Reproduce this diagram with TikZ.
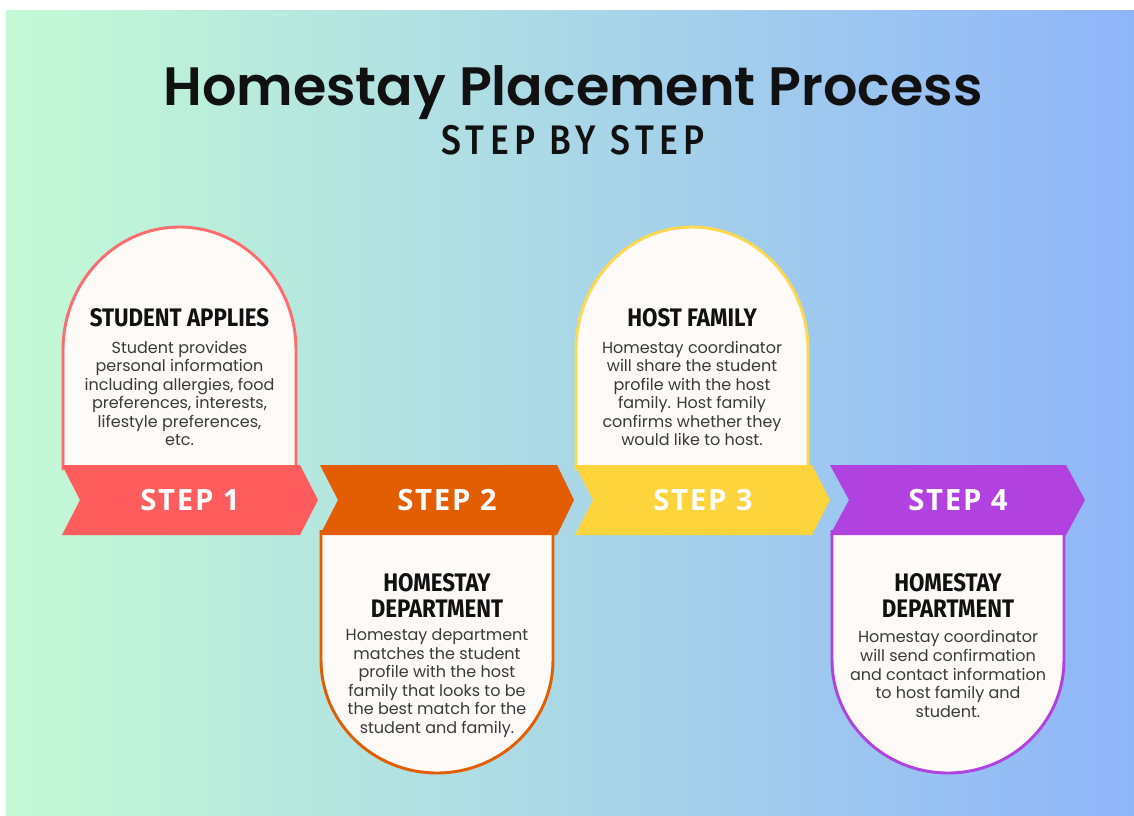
\documentclass[tikz,border=0pt]{standalone}
\usepackage{fontspec}
\setmainfont{Poppins}
\newfontfamily\titlefont{Poppins SemiBold}
\newfontfamily\headfont[FakeStretch=0.88]{Fira Sans}
\newfontfamily\subfont[FakeStretch=0.86,LetterSpace=13]{Fira Sans Medium}
\newfontfamily\ribbonfont[LetterSpace=6]{Open Sans}
\usepackage{tikz}
\usetikzlibrary{positioning}
\definecolor{BgMint}{HTML}{C4FAD5}
\definecolor{BgAqua}{HTML}{ACDCE8}
\definecolor{BgSky}{HTML}{8FB5F9}
\definecolor{CardWhite}{HTML}{FDFAF8}
\definecolor{InkBlack}{HTML}{111111}
\definecolor{InkGray}{HTML}{3A3A3A}
\definecolor{StepRed}{HTML}{FF5C5E}
\definecolor{StepOrange}{HTML}{E35D02}
\definecolor{StepYellow}{HTML}{FDD43C}
\definecolor{StepPurple}{HTML}{B142E0}
\tikzset{
  card/.style={line width=2.2pt, fill=CardWhite, line join=round},
  titletext/.style={font=\titlefont\fontsize{40.5}{44}\selectfont, text=InkBlack},
  subtext/.style={font=\subfont\fontsize{31}{32}\selectfont, text=InkBlack},
  headtext/.style={font=\headfont\bfseries\fontsize{19}{19}\selectfont, text=InkBlack, align=center},
  bodytext/.style={font=\fontsize{12}{13.9}\selectfont, text=InkGray, align=center},
  steptext/.style={font=\ribbonfont\bfseries\fontsize{22}{24}\selectfont, text=white}
}
\begin{document}
\begin{tikzpicture}[x=0.75pt, y=-0.75pt]
  \useasboundingbox (0,0) rectangle (1134,816);
  % backdrop
  \fill[white] (0,0) rectangle (1134,816);
  \shade[left color=BgMint, middle color=BgAqua, right color=BgSky] (6,11) rectangle (1134,815);

  % title
  \node[titletext] (title) at (573,93) {Homestay Placement Process};
  \node[subtext] (subtitle) at (573,140) {STEP BY STEP};

  % step 1
  \draw[card, draw=StepRed!90!white] (63,470) -- (63,350) arc[start angle=180, end angle=360, x radius=116.5, y radius=123] -- (296,470);
  \fill[StepRed] (62,465) -- (300,465) -- (318,500) -- (300,535) -- (62,535) -- (80,500) -- cycle;
  \node[headtext] (head1) at (179.5,318) {STUDENT APPLIES};
  \node[bodytext] (text1) at (179.5,393.5) {Student provides\\personal information\\including allergies, food\\preferences, interests,\\lifestyle preferences,\\etc.};
  \node[steptext] (step1) at (190,500) {STEP 1};

  % step 2
  \draw[card, draw=StepOrange] (321,530) -- (321,660) arc[start angle=180, end angle=0, x radius=116, y radius=113] -- (553,530);
  \fill[StepOrange] (320,465) -- (557,465) -- (574,500) -- (557,535) -- (320,535) -- (338,500) -- cycle;
  \node[headtext] (head2) at (437,595.5) {HOMESTAY\\DEPARTMENT};
  \node[bodytext] (text2) at (437,683) {Homestay department\\matches the student\\profile with the host\\family that looks to be\\the best match for the\\student and family.};
  \node[steptext] (step2) at (447,500) {STEP 2};

  % step 3
  \draw[card, draw=StepYellow!90!white] (576,470) -- (576,350) arc[start angle=180, end angle=360, x radius=116, y radius=123] -- (808,470);
  \fill[StepYellow] (575,465) -- (812,465) -- (830,500) -- (812,535) -- (575,535) -- (593,500) -- cycle;
  \node[headtext] (head3) at (692,318) {HOST FAMILY};
  \node[bodytext] (text3) at (692,393.5) {Homestay coordinator\\will share the student\\profile with the host\\family. Host family\\confirms whether they\\would like to host.};
  \node[steptext] (step3) at (703,500) {STEP 3};

  % step 4
  \draw[card, draw=StepPurple] (832,530) -- (832,660) arc[start angle=180, end angle=0, x radius=116, y radius=113] -- (1064,530);
  \fill[StepPurple] (830,465) -- (1066,465) -- (1085,500) -- (1066,535) -- (830,535) -- (849,500) -- cycle;
  \node[headtext] (head4) at (948,595.5) {HOMESTAY\\DEPARTMENT};
  \node[bodytext] (text4) at (948,674) {Homestay coordinator\\will send confirmation\\and contact information\\to host family and\\student.};
  \node[steptext] (step4) at (958,500) {STEP 4};
\end{tikzpicture}
\end{document}
